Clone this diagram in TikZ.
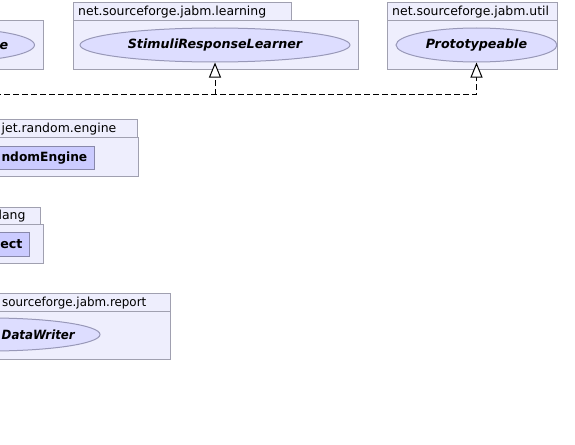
\documentclass[tikz,border=0pt]{standalone}
\usepackage{fontspec}
\setmainfont{DejaVu Sans}[ItalicFont={DejaVu Sans Oblique},BoldFont={DejaVu Sans Bold},BoldItalicFont={DejaVu Sans Bold Oblique}]
\usetikzlibrary{shapes.geometric,arrows.meta}
\definecolor{pkgfill}{HTML}{EEEEFD}
\definecolor{pkgdraw}{HTML}{A0A0B0}
\definecolor{ifill}{HTML}{DDDDFF}
\definecolor{idraw}{HTML}{9898B8}
\definecolor{cfill}{HTML}{CBCBFF}
\definecolor{cdraw}{HTML}{8888AA}
\tikzset{
  pkgbox/.style={draw=pkgdraw, fill=pkgfill, line width=1pt, rectangle, inner sep=0pt, anchor=north west},
  ifc/.style={ellipse, draw=idraw, fill=ifill, line width=1pt, inner sep=0pt},
  cls/.style={rectangle, draw=cdraw, fill=cfill, line width=1pt, inner sep=0pt, anchor=north west},
  pkglabel/.style={inner sep=0pt, font=\fontsize{12.45}{14}\selectfont},
  clslabel/.style={inner sep=0pt, font=\fontsize{12.7}{14}\selectfont\bfseries},
  ifclabel/.style={clslabel, font=\fontsize{12.7}{14}\selectfont\bfseries\itshape},
  realize/.style={line width=1pt, dash pattern=on 6pt off 3pt, -{Triangle[length=15pt,width=12pt,fill=white]}}
}
\begin{document}
\begin{tikzpicture}[x=1pt,y=-1pt]
\useasboundingbox (0,0) rectangle (575,444);
\clip (0,0) rectangle (575,444);
\fill[white] (0,0) rectangle (575,444);

% top-left package (cut off)
\node[pkgbox, minimum width=142.7pt, minimum height=49pt] (pkgA) at (-100,20) {};
\node[ifc, minimum width=184.5pt, minimum height=34pt] (ifcA) at (-57.75,45) {};
\node[ifclabel, anchor=base east] (ifcAtxt) at (8.5,49) {e};

% net.sourceforge.jabm.learning
\node[pkgbox, minimum width=218.5pt, minimum height=18pt] (learnTab) at (72.5,2) {};
\node[pkgbox, minimum width=285pt, minimum height=49pt] (learnBody) at (72.5,20) {};
\node[pkglabel, anchor=base west] (learnLbl) at (78,15.5) {net.sourceforge.jabm.learning};
\node[ifc, minimum width=270pt, minimum height=34pt] (srl) at (215,45) {};
\node[ifclabel, anchor=base] (srlTxt) at (215,48.8) {StimuliResponseLearner};

% net.sourceforge.jabm.util
\node[pkgbox, minimum width=170pt, minimum height=18pt] (utilTab) at (387,2) {};
\node[pkgbox, minimum width=170pt, minimum height=49pt] (utilBody) at (387,20) {};
\node[pkglabel, anchor=base west] (utilLbl) at (392,15.5) {net.sourceforge.jabm.util};
\node[ifc, minimum width=161pt, minimum height=34pt] (proto) at (476.5,45) {};
\node[ifclabel, anchor=base] (protoTxt) at (476.5,48.8) {Prototypeable};

% jet.random.engine
\node[pkgbox, minimum width=146.5pt, minimum height=18pt] (jetTab) at (-10,119) {};
\node[pkgbox, minimum width=147.5pt, minimum height=39pt] (jetBody) at (-10,137) {};
\node[pkglabel, anchor=base east] (jetLbl) at (116.5,132.5) {jet.random.engine};
\node[cls, minimum width=144.3pt, minimum height=23pt] (reng) at (-50,146) {};
\node[clslabel, anchor=base east] (rengTxt) at (87.5,161.8) {\scalebox{0.965}[1]{ndomEngine}};

% lang
\node[pkgbox, minimum width=50pt, minimum height=17.5pt] (langTab) at (-10,206.5) {};
\node[pkgbox, minimum width=53.3pt, minimum height=39pt] (langBody) at (-10,224) {};
\node[pkglabel, anchor=base east] (langLbl) at (25.7,219.8) {lang};
\node[cls, minimum width=39.3pt, minimum height=23.5pt] (obj) at (-10,232) {};
\node[clslabel, anchor=base east] (objTxt) at (22.7,248.2) {ect};

% sourceforge.jabm.report
\node[pkgbox, minimum width=179.5pt, minimum height=18pt] (repTab) at (-10,293) {};
\node[pkgbox, minimum width=179.5pt, minimum height=48pt] (repBody) at (-10,311) {};
\node[pkglabel, anchor=base east] (repLbl) at (146.5,306.5) {\scalebox{0.955}[1]{sourceforge.jabm.report}};
\node[ifc, minimum width=220pt, minimum height=33pt] (dw) at (-10,334.5) {};
\node[ifclabel, anchor=base east] (dwTxt) at (75,339) {\scalebox{0.93}[1]{DataWriter}};

% realization connectors
\coordinate (lft) at (-5,94.5);
\coordinate (j1) at (215,94.5);
\coordinate (j2) at (476.5,94.5);
\draw[realize] (lft) -- (j2) -- (proto.south);
\draw[realize] (j1) -- (srl.south);
\end{tikzpicture}
\end{document}
